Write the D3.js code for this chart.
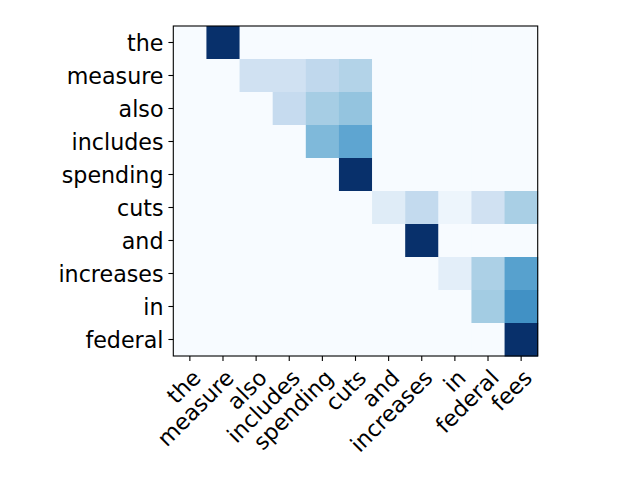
<!DOCTYPE html>
<html>
<head>
<meta charset="utf-8">
<script src="https://cdn.jsdelivr.net/npm/d3@7"></script>
<style>
  body { margin: 0; background: #fff; }
  text { font-family: "DejaVu Sans", sans-serif; }
</style>
</head>
<body>
<div id="chart"></div>
<script>
// source words (columns) and target words (rows)
var xWords = ["the", "measure", "also", "includes", "spending", "cuts", "and", "increases", "in", "federal", "fees"];
var yWords = ["the", "measure", "also", "includes", "spending", "cuts", "and", "increases", "in", "federal"];

// attention weights, one row per y word
var weights = [
  [0, 1.00, 0, 0, 0, 0, 0, 0, 0, 0, 0],
  [0, 0, 0.20, 0.20, 0.27, 0.31, 0, 0, 0, 0, 0],
  [0, 0, 0, 0.25, 0.35, 0.40, 0, 0, 0, 0, 0],
  [0, 0, 0, 0, 0.45, 0.54, 0, 0, 0, 0, 0],
  [0, 0, 0, 0, 0, 1.00, 0, 0, 0, 0, 0],
  [0, 0, 0, 0, 0, 0, 0.12, 0.26, 0.05, 0.20, 0.34],
  [0, 0, 0, 0, 0, 0, 0, 1.00, 0, 0, 0],
  [0, 0, 0, 0, 0, 0, 0, 0, 0.10, 0.33, 0.56],
  [0, 0, 0, 0, 0, 0, 0, 0, 0, 0.36, 0.63],
  [0, 0, 0, 0, 0, 0, 0, 0, 0, 0, 1.00]
];

// Blues colormap stops
var blues = ["#f7fbff", "#deebf7", "#c6dbef", "#9ecae1", "#6baed6", "#4292c6", "#2171b5", "#08519c", "#08306b"];

var plotLeft = 173.3, plotTop = 26, plotW = 364.4, plotH = 330;

var svg = d3.select("#chart")
            .append("svg")
            .attr("width", 640)
            .attr("height", 480);

var x = d3.scaleBand().domain(d3.range(xWords.length)).range([plotLeft, plotLeft + plotW]);
var y = d3.scaleBand().domain(d3.range(yWords.length)).range([plotTop, plotTop + plotH]);
var color = d3.scaleLinear()
              .domain(blues.map(function(d, i) { return i / (blues.length - 1); }))
              .range(blues)
              .interpolate(d3.interpolateRgb);

var cells = [];
weights.forEach(function(row, r) {
  row.forEach(function(v, c) { cells.push({ r: r, c: c, v: v }); });
});

/* cells */
svg.append("g")
   .selectAll("rect")
   .data(cells)
   .enter()
   .append("rect")
   .attr("x", function(d) { return x(d.c); })
   .attr("y", function(d) { return y(d.r); })
   .attr("width", x.bandwidth() + 0.5)
   .attr("height", y.bandwidth() + 0.5)
   .attr("fill", function(d) { return color(d.v); });

/* frame */
svg.append("rect")
   .attr("x", plotLeft).attr("y", plotTop)
   .attr("width", plotW).attr("height", plotH)
   .attr("fill", "none")
   .attr("stroke", "black")
   .attr("stroke-width", 1.1);

var fontSize = 22.2;

/* x axis */
var xAxis = svg.append("g")
   .attr("transform", "translate(0," + (plotTop + plotH) + ")")
   .call(d3.axisBottom(x).tickSize(4.9).tickFormat(function(i) { return xWords[i]; }));
xAxis.select(".domain").remove();
xAxis.selectAll(".tick line").attr("stroke", "black").attr("stroke-width", 1.1);
xAxis.selectAll(".tick text")
     .attr("font-size", fontSize)
     .attr("font-family", "DejaVu Sans")
     .attr("fill", "black")
     .attr("text-anchor", "end")
     .attr("x", 0).attr("y", 0)
     .attr("dy", "0.78em")
     .attr("transform", "translate(0,11) rotate(-45)");

/* y axis */
var yAxis = svg.append("g")
   .attr("transform", "translate(" + plotLeft + ",0)")
   .call(d3.axisLeft(y).tickSize(4.9).tickPadding(4.9).tickFormat(function(i) { return yWords[i]; }));
yAxis.select(".domain").remove();
yAxis.selectAll(".tick line").attr("stroke", "black").attr("stroke-width", 1.1);
yAxis.selectAll(".tick text")
     .attr("font-size", fontSize)
     .attr("font-family", "DejaVu Sans")
     .attr("fill", "black")
     .attr("dy", "0.36em");
</script>
</body>
</html>
